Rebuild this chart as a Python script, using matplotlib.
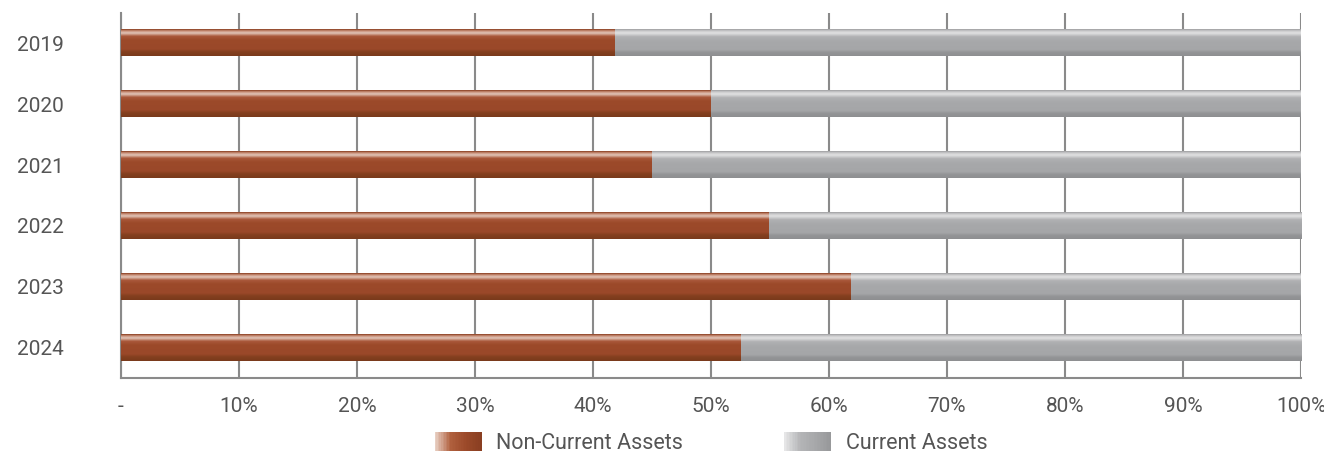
import numpy as np
import matplotlib
matplotlib.use('Agg')
import matplotlib.pyplot as plt
from matplotlib.colors import LinearSegmentedColormap
from matplotlib.patches import Rectangle
from matplotlib.legend_handler import HandlerPatch

# Datos
years = ['2019', '2020', '2021', '2022', '2023', '2024']
non_current = [41.9, 50.0, 45.0, 54.9, 61.9, 52.5]
current = [100 - v for v in non_current]
ticks = [0, 10, 20, 30, 40, 50, 60, 70, 80, 90, 100]
tick_labels = ['-', '10%', '20%', '30%', '40%', '50%', '60%', '70%', '80%', '90%', '100%']

plt.rcParams['font.family'] = ['Roboto', 'DejaVu Sans']
txt_color = '#555555'
grid_color = '#8a8a8a'

# Degradados verticales (arriba -> abajo)
brown_cmap = LinearSegmentedColormap.from_list('brown', [
    (0.00, '#8a3f22'), (0.06, '#c98e76'), (0.14, '#e2c6ba'),
    (0.26, '#a9583a'), (0.40, '#9c4a2a'), (0.75, '#9a4829'),
    (0.85, '#84401f'), (1.00, '#7a3a1c')])
grey_cmap = LinearSegmentedColormap.from_list('grey', [
    (0.00, '#a0a0a2'), (0.06, '#c8c8ca'), (0.14, '#e2e2e3'),
    (0.28, '#b0b1b3'), (0.45, '#a7a8aa'), (0.78, '#a5a6a8'),
    (0.86, '#949597'), (1.00, '#8e8f91')])

fig = plt.figure(figsize=(13.24, 4.57), dpi=100)
ax = fig.add_axes([121 / 1324, 1 - 378 / 457, 1180 / 1324, 365 / 457])

y = np.arange(len(years))
bars1 = ax.barh(y, non_current, height=0.43, color='#9c4a2a', zorder=3)
bars2 = ax.barh(y, current, left=non_current, height=0.43, color='#a7a8aa', zorder=3)

grad = np.linspace(0, 1, 64).reshape(-1, 1)
for bars, cmap in [(bars1, brown_cmap), (bars2, grey_cmap)]:
    for p in bars:
        x0, y0 = p.get_x(), p.get_y()
        w, h = p.get_width(), p.get_height()
        ax.imshow(grad, cmap=cmap, aspect='auto', interpolation='bilinear',
                  extent=(x0, x0 + w, y0 + h, y0), zorder=4)
        p.set_visible(False)

ax.set_xlim(0, 100)
ax.set_ylim(len(years) - 0.5, -0.5)
ax.set_yticks(y)
ax.set_yticklabels(years)
ax.set_xticks(ticks)
ax.set_xticklabels(tick_labels)
ax.tick_params(axis='y', length=0, pad=41, labelsize=15, labelcolor=txt_color)
ax.tick_params(axis='x', length=0, pad=14, labelsize=15, labelcolor=txt_color)
ax.xaxis.grid(True, color=grid_color, lw=1.5, zorder=1)
for s in ['top', 'right']:
    ax.spines[s].set_visible(False)
for s in ['left', 'bottom']:
    ax.spines[s].set_color(grid_color)
    ax.spines[s].set_linewidth(1.5)


# Leyenda con degradado horizontal
class GradientHandler(HandlerPatch):
    def __init__(self, colors):
        super().__init__()
        self.colors = colors

    def create_artists(self, legend, orig_handle, xdescent, ydescent,
                       width, height, fontsize, trans):
        cmap = LinearSegmentedColormap.from_list('g', self.colors)
        n = 30
        arts = []
        for i in range(n):
            r = Rectangle((-xdescent + width * i / n, -ydescent), width / n + 0.3, height,
                          facecolor=cmap(i / (n - 1)), edgecolor='none', transform=trans)
            arts.append(r)
        return arts


h1 = Rectangle((0, 0), 1, 1)
h2 = Rectangle((0, 0), 1, 1)
fig.legend([h1, h2], ['Non-Current Assets', 'Current Assets'],
           handler_map={h1: GradientHandler(['#e8cfc3', '#b0603e', '#9c4a2a', '#8a3f22']),
                        h2: GradientHandler(['#e6e6e7', '#b4b5b7', '#a7a8aa', '#98999b'])},
           loc='center', bbox_to_anchor=(711 / 1324, 1 - 443 / 457), ncol=2,
           frameon=False, fontsize=15.5, labelcolor=txt_color, borderpad=0.2,
           handlelength=2.15, handleheight=1.0, handletextpad=0.7, columnspacing=4.7)

fig.savefig('out.png', dpi=100)
